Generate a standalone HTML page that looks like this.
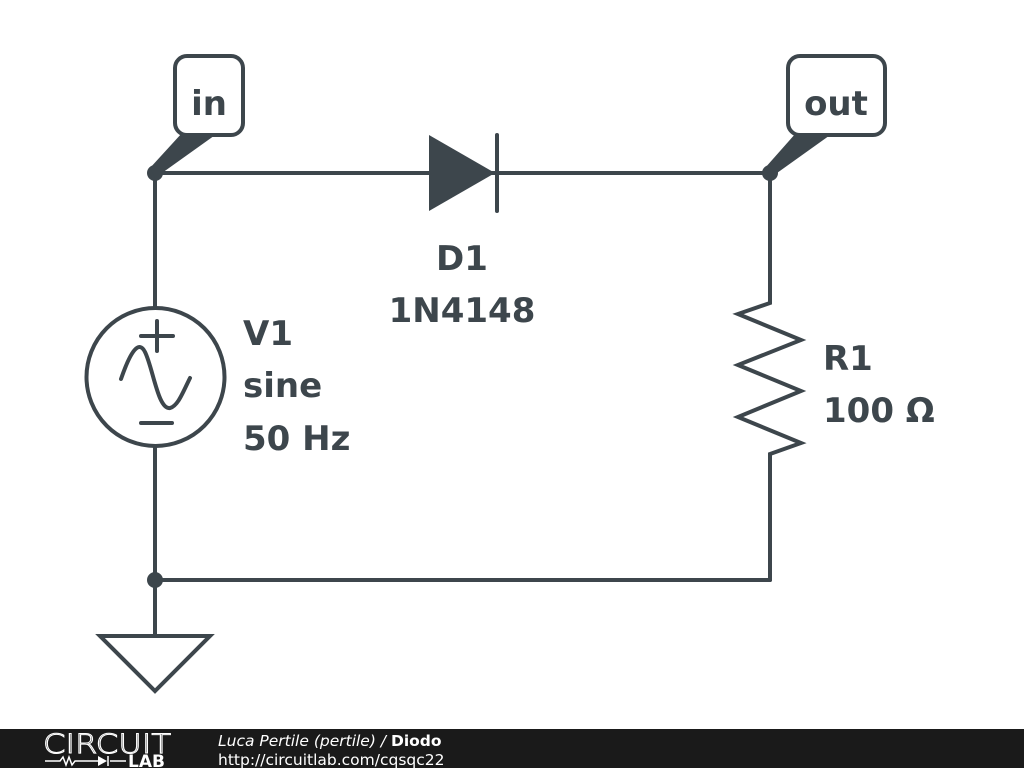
<!DOCTYPE html>
<html><head><meta charset="utf-8"><style>
html,body{margin:0;padding:0;background:#fff;width:1024px;height:768px;overflow:hidden}
svg{display:block}
</style></head><body>
<svg width="1024" height="768" viewBox="0 0 1024 768" xmlns="http://www.w3.org/2000/svg">
<g stroke="#3d464c" stroke-width="4" fill="none" stroke-linecap="round" stroke-linejoin="miter">
<line x1="155" y1="173" x2="770" y2="173"/>
<line x1="155" y1="173" x2="155" y2="307"/>
<line x1="155" y1="447" x2="155" y2="636"/>
<line x1="155" y1="580" x2="770" y2="580"/>
<line x1="770" y1="173" x2="770" y2="300"/>
<line x1="770" y1="455" x2="770" y2="580"/>
<polyline points="770,300 770,303 738,314 801,340 738,365 801,391 738,417 801,443 770,454 770,456"/>
<circle cx="155.5" cy="377" r="69"/>
<line x1="141" y1="336" x2="173" y2="336"/>
<line x1="157" y1="321" x2="157" y2="351"/>
<line x1="141" y1="423" x2="172" y2="423"/>
<path d="M121,379 C131,350 139,340 145,352 C153,368 158,410 170,408 C178,406 183,392 190,378"/>
<polygon points="100,636 210,636 155,691"/>
<line x1="497" y1="135" x2="497" y2="211"/>
<rect x="175" y="56" width="68" height="79" rx="12"/>
<rect x="788" y="56" width="97" height="79" rx="12"/>
</g>
<g fill="#3d464c">
<polygon points="429,135 495,173 429,211"/>
<circle cx="155" cy="173" r="8"/>
<circle cx="770" cy="173" r="8"/>
<circle cx="155" cy="580" r="8"/>
<polygon points="182,133 218,133 155,178 150,168"/>
<polygon points="796,133 833,133 770,178 765,168"/>
</g>
<g font-family="DejaVu Sans, sans-serif" font-weight="bold" fill="#3d464c" font-size="34">
<text x="209" y="115" text-anchor="middle">in</text>
<text x="836" y="115" text-anchor="middle">out</text>
<text x="462" y="270" text-anchor="middle">D1</text>
<text x="462" y="322" text-anchor="middle">1N4148</text>
<text x="243" y="345">V1</text>
<text x="243" y="397">sine</text>
<text x="243" y="450">50 Hz</text>
<text x="823" y="370">R1</text>
<text x="823" y="422">100 Ω</text>
</g>
<rect x="0" y="729" width="1024" height="39" fill="#1a1a1a"/>
<g fill="#fff" font-family="DejaVu Sans, sans-serif">
<text x="43" y="753" font-size="27" font-weight="300" textLength="128" lengthAdjust="spacingAndGlyphs" fill="none" stroke="#fff" stroke-width="1">CIRCUIT</text>
<text x="128" y="767" font-size="17" font-weight="bold">LAB</text>
<text x="218" y="746" font-size="15.5" font-style="italic">Luca Pertile (pertile) / <tspan font-weight="bold" font-style="normal">Diodo</tspan></text>
<text x="218" y="765" font-size="15.5">http://circuitlab.com/cqsqc22</text>
</g>
<g stroke="#fff" stroke-width="1.5" fill="none">
<polyline points="45,761 60,761 63,757 66,765 69,757 72,765 75,761 98,761"/>
<line x1="110" y1="761" x2="126" y2="761"/>
<line x1="108" y1="756" x2="108" y2="766"/>
</g>
<polygon points="98,756 107,761 98,766" fill="#fff"/>
</svg>
</body></html>
